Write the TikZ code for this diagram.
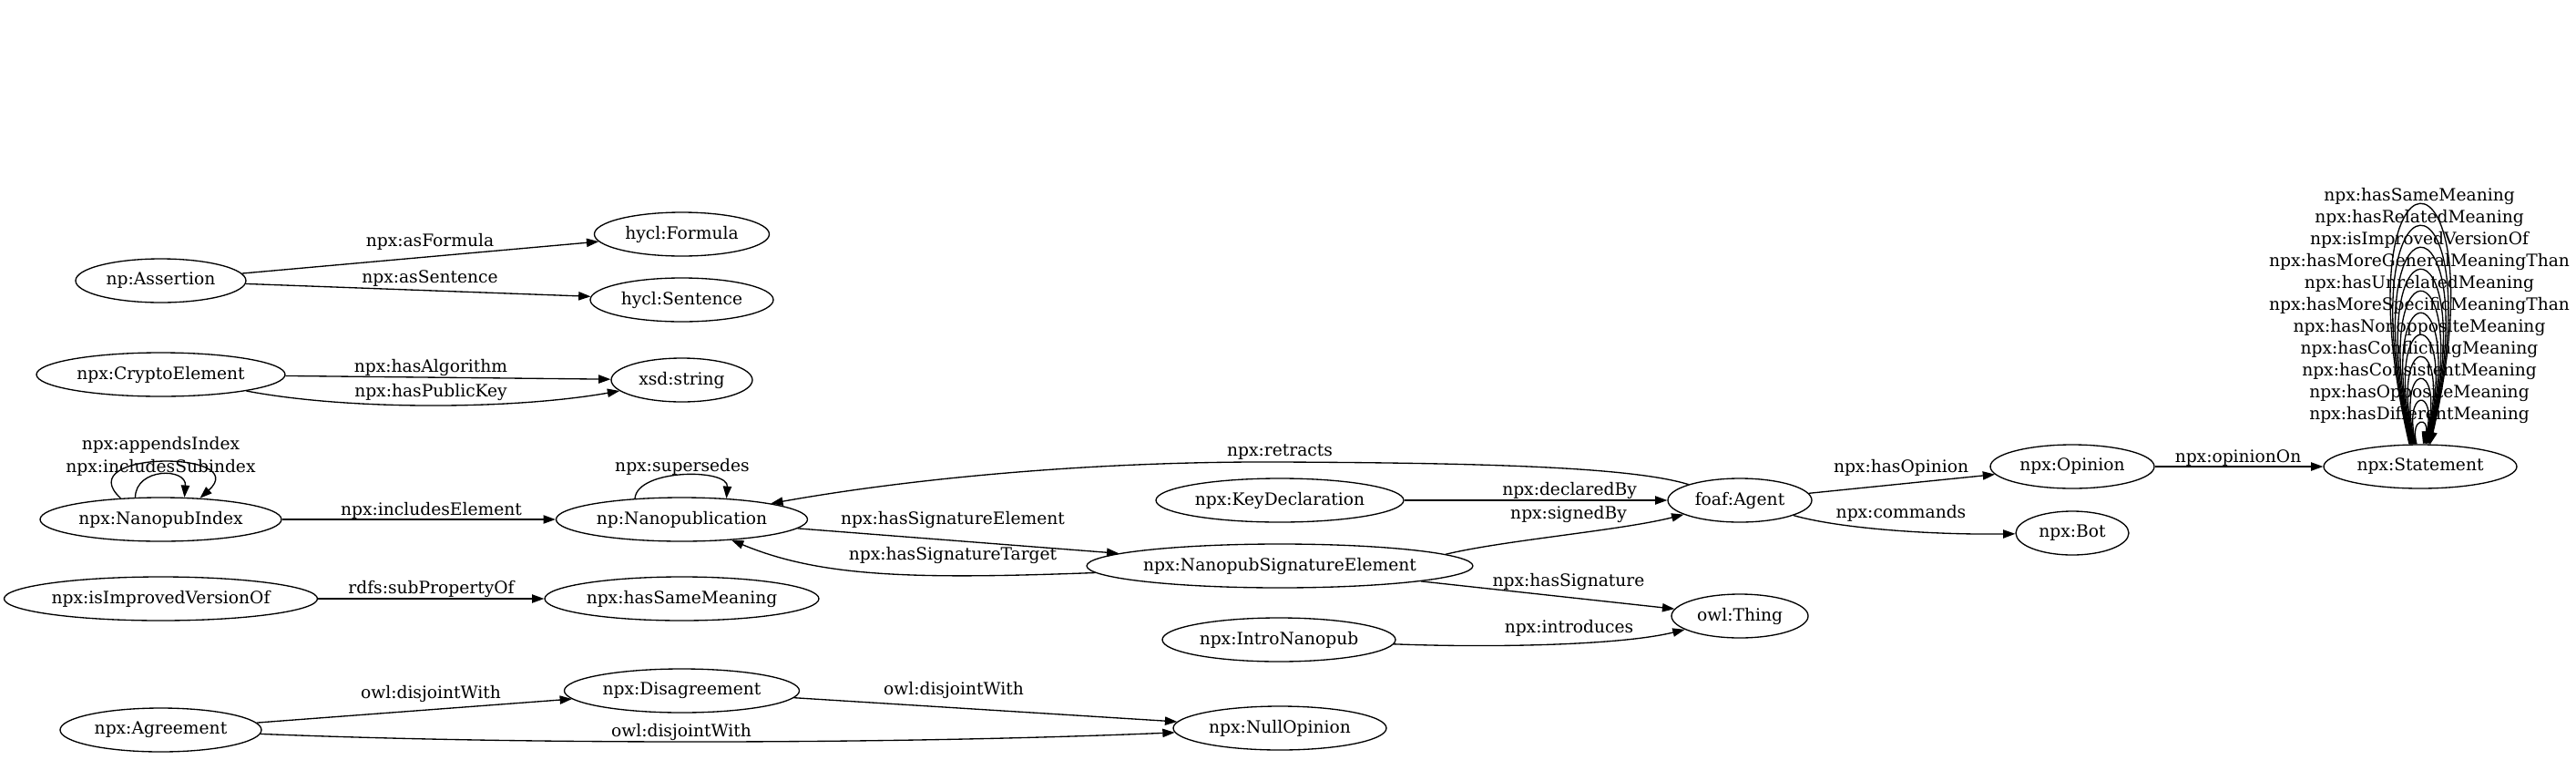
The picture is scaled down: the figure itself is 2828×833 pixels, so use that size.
\documentclass[tikz,border=0pt]{standalone}
\usepackage{fontspec}
\setmainfont{DejaVu Serif}
\usetikzlibrary{shapes.geometric,arrows.meta}
\begin{document}
\begin{tikzpicture}[x=1pt,y=-1pt,
  font=\fontsize{18.67pt}{22pt}\selectfont,
  gnode/.style={ellipse, draw, line width=1.33pt, inner sep=0pt, minimum height=48pt},
  edge/.style={draw, line width=1.33pt, -{Triangle[length=13.3pt,width=9.3pt]}},
  lbl/.style={inner sep=0pt}]
\useasboundingbox (0,0) rectangle (2828,833);

% nodes
\node[gnode, minimum width=187pt] (assertion) at (176.5,308) {np:Assertion};
\node[gnode, minimum width=192pt] (formula) at (748.5,257) {hycl:Formula};
\node[gnode, minimum width=201pt] (sentence) at (748.5,329) {hycl:Sentence};
\node[gnode, minimum width=273pt] (crypto) at (176.5,411) {npx:CryptoElement};
\node[gnode, minimum width=155pt] (xsd) at (748.5,417) {xsd:string};
\node[gnode, minimum width=265pt] (nidx) at (176.5,570) {npx:NanopubIndex};
\node[gnode, minimum width=276pt] (npub) at (748.5,570) {np:Nanopublication};
\node[gnode, minimum width=344pt] (isimp) at (176.5,657) {npx:isImprovedVersionOf};
\node[gnode, minimum width=301pt] (samem) at (748.5,657) {npx:hasSameMeaning};
\node[gnode, minimum width=221pt] (agree) at (176.5,801) {npx:Agreement};
\node[gnode, minimum width=258pt] (disag) at (748.5,758) {npx:Disagreement};
\node[gnode, minimum width=234pt] (nullop) at (1405,799) {npx:NullOpinion};
\node[gnode, minimum width=420pt] (sigel) at (1405,621) {npx:NanopubSignatureElement};
\node[gnode, minimum width=272pt] (keydec) at (1405,549) {npx:KeyDeclaration};
\node[gnode, minimum width=256pt] (intro) at (1404,702) {npx:IntroNanopub};
\node[gnode, minimum width=158pt] (agent) at (1910,549) {foaf:Agent};
\node[gnode, minimum width=150pt] (thing) at (1910,676) {owl:Thing};
\node[gnode, minimum width=180pt] (opinion) at (2275,512) {npx:Opinion};
\node[gnode, minimum width=124pt] (bot) at (2275,585) {npx:Bot};
\node[gnode, minimum width=212pt] (stmt) at (2657,512) {npx:Statement};

% edges
\draw[edge] (assertion) -- (formula) node[lbl] at (472,265) {npx:asFormula};
\draw[edge] (assertion) -- (sentence) node[lbl] at (472,306) {npx:asSentence};
\draw[edge] (crypto) -- (xsd) node[lbl] at (473,403) {npx:hasAlgorithm};
\draw[edge] (crypto) .. controls (380,450) and (560,450) .. (xsd) node[lbl] at (473,430) {npx:hasPublicKey};

\draw[edge] ([shift={(-44,1.4)}]nidx.north) .. controls (75,494) and (278,494) .. ([shift={(43,1.3)}]nidx.north)
  node[lbl] at (176.5,488) {npx:appendsIndex};
\draw[edge] ([shift={(-28,0.5)}]nidx.north) .. controls (149,513) and (205,513) .. ([shift={(26,0.5)}]nidx.north)
  node[lbl] at (176.5,513) {npx:includesSubindex};
\draw[edge] (nidx) -- (npub) node[lbl] at (473.5,560) {npx:includesElement};
\draw[edge] ([shift={(-51.5,1.7)}]npub.north) .. controls (700,514) and (800,514) .. ([shift={(49,1.6)}]npub.north)
  node[lbl] at (749,512) {npx:supersedes};
\draw[edge] (isimp) -- (samem) node[lbl] at (473.5,646) {rdfs:subPropertyOf};
\draw[edge] (agree) -- (disag) node[lbl] at (473,761) {owl:disjointWith};
\draw[edge] (agree) .. controls (600,818) and (1000,816) .. (nullop) node[lbl] at (748,803) {owl:disjointWith};
\draw[edge] (disag) -- (nullop) node[lbl] at (1047,757) {owl:disjointWith};

\draw[edge] (npub) -- (sigel) node[lbl] at (1046,570) {npx:hasSignatureElement};
\draw[edge] (sigel) .. controls (1000,636) and (900,633) .. (npub) node[lbl] at (1046,609) {npx:hasSignatureTarget};
\coordinate (retr) at (1405,507);
\draw[edge] (agent) .. controls (1790,512) and (1620,508) .. (retr) .. controls (1200,506) and (1000,525) .. (npub);
\node[lbl] (retrlbl) at (1405,496) {npx:retracts};

\draw[edge] (keydec) -- (agent) node[lbl] at (1723,538) {npx:declaredBy};
\draw[edge] (sigel.4.9) .. controls (1650,593) and (1780,582) .. (agent) node[lbl] at (1722,564) {npx:signedBy};
\draw[edge] (sigel) -- (thing) node[lbl] at (1722,638) {npx:hasSignature};
\draw[edge] (intro) .. controls (1640,711) and (1780,708) .. (thing) node[lbl] at (1722.5,689) {npx:introduces};
\draw[edge] (agent) -- (opinion) node[lbl] at (2087,513) {npx:hasOpinion};
\draw[edge] (agent) .. controls (2020,580) and (2120,587) .. (bot) node[lbl] at (2087,563) {npx:commands};
\draw[edge] (opinion) -- (stmt) node[lbl] at (2457,503) {npx:opinionOn};

% self loops on npx:Statement
\foreach \i/\lab in {0/npx:hasSameMeaning,1/npx:hasRelatedMeaning,2/npx:isImprovedVersionOf,
  3/npx:hasMoreGeneralMeaningThan,4/npx:hasUnrelatedMeaning,5/npx:hasMoreSpecificMeaningThan,
  6/npx:hasNonoppositeMeaning,7/npx:hasConflictingMeaning,8/npx:hasConsistentMeaning,
  9/npx:hasOppositeMeaning,10/npx:hasDifferentMeaning} {
  \pgfmathsetmacro\P{225+24*\i}
  \pgfmathsetmacro\T{488-(488-\P)/0.75}
  \pgfmathsetmacro\g{11.5-0.8*\i}
  \pgfmathsetmacro\h{32.5-2.75*\i}
  \pgfmathsetmacro\D{(\h-0.5*\g)/0.289}
  \pgfmathsetmacro\sa{-0.5-\g}
  \pgfmathsetmacro\sb{-0.5+\g}
  \pgfmathsetmacro\ly{215+24*\i}
  \draw[edge] ([xshift=\sa pt]stmt.north) .. controls (2656.5-\D,\T) and (2656.5+\D,\T) .. ([xshift=\sb pt]stmt.north);
  \node[lbl] at (2656,\ly) {\lab};
}
\end{tikzpicture}
\end{document}
